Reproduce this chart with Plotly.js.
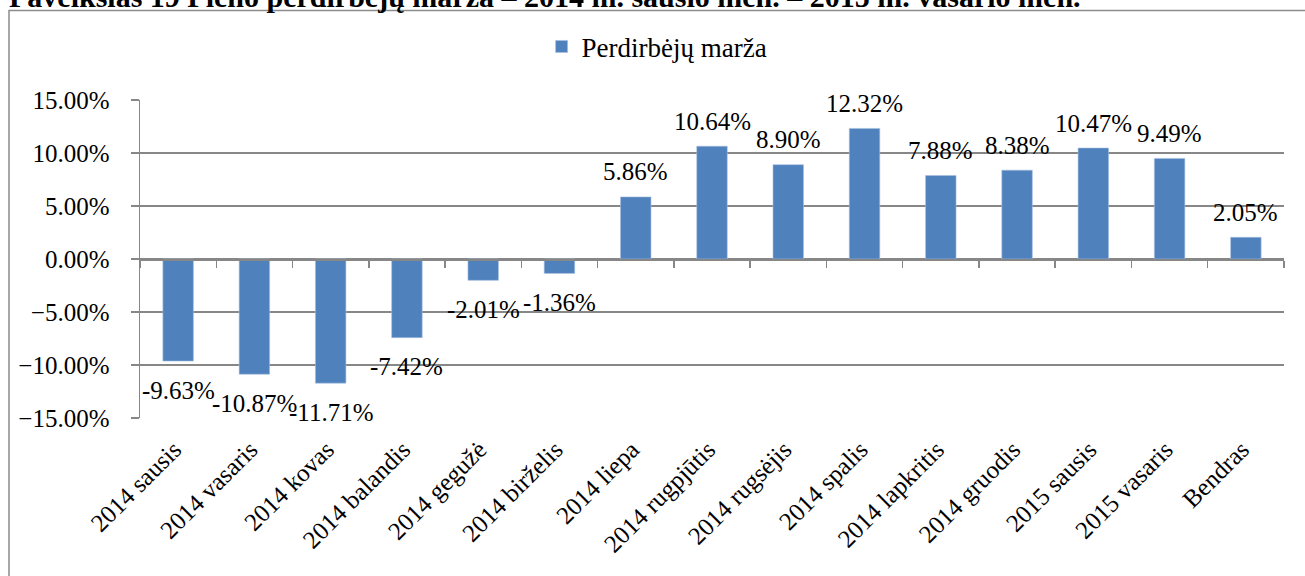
<!DOCTYPE html>
<html>
<head>
<meta charset="utf-8">
<script src="https://cdn.plot.ly/plotly-3.0.1.min.js"></script>
<style>
html,body{margin:0;padding:0;background:#fff;}
#chart{width:1305px;height:576px;}
</style>
</head>
<body>
<div id="chart"></div>
<script>
const categories = ["2014 sausis","2014 vasaris","2014 kovas","2014 balandis","2014 gegužė","2014 birželis","2014 liepa","2014 rugpjūtis","2014 rugsėjis","2014 spalis","2014 lapkritis","2014 gruodis","2015 sausis","2015 vasaris","Bendras"];
const margin = [-9.63,-10.87,-11.71,-7.42,-2.01,-1.36,5.86,10.64,8.90,12.32,7.88,8.38,10.47,9.49,2.05];
const seriesName = "Perdirbėjų marža";
const titleText = "Paveikslas 19 Pieno perdirbėjų marža – 2014 m. sausio mėn. – 2015 m. vasario mėn.";

const FONT = "Liberation Serif";
const GRID = "#878787";

const traces = [
  {
    type: "bar",
    name: seriesName,
    x: categories,
    y: margin,
    marker: {color: "#4f81bd", line: {color: "#a9c0e0", width: 0.6}},
    hoverinfo: "skip"
  },
  {
    type: "scatter",
    mode: "markers",
    x: categories,
    y: margin,
    xaxis: "x2",
    marker: {opacity: 0},
    showlegend: false,
    hoverinfo: "skip"
  }
];

const labelAnnotations = categories.map((c, i) => ({
  x: c,
  y: margin[i],
  xref: "x",
  yref: "y",
  text: margin[i].toFixed(2) + "%",
  showarrow: false,
  xanchor: "center",
  yanchor: "middle",
  yshift: margin[i] >= 0 ? 25 : -29,
  font: {family: FONT, size: 25, color: "#000"}
}));

const titleAnnotation = {
  text: "<b>" + titleText + "</b>",
  xref: "paper", yref: "paper",
  x: (7 - 140) / 1144, xanchor: "left",
  y: (418 + 3.5) / 318, yanchor: "middle",
  showarrow: false,
  font: {family: FONT, size: 30, color: "#000"}
};

const layout = {
  width: 1305,
  height: 576,
  paper_bgcolor: "#fff",
  plot_bgcolor: "#fff",
  font: {family: FONT, size: 25, color: "#000"},
  margin: {l: 140, r: 21, t: 100, b: 158},
  bargap: 0.6,
  showlegend: true,
  legend: {
    orientation: "h",
    xref: "paper", yref: "paper",
    x: 0.452, xanchor: "center",
    y: 1.167, yanchor: "middle",
    font: {family: FONT, size: 27},
    itemwidth: 30
  },
  xaxis: {
    type: "category",
    range: [-0.5, 14.5],
    tickangle: -45,
    showgrid: false,
    showline: false,
    zeroline: false,
    ticks: "",
    ticklabelstandoff: 11,
    ticklabelshift: -4,
    tickfont: {family: FONT, size: 25}
  },
  xaxis2: {
    type: "category",
    overlaying: "x",
    matches: "x",
    range: [-0.5, 14.5],
    anchor: "free",
    position: 0.5,
    side: "bottom",
    showline: true,
    linecolor: GRID,
    linewidth: 1.5,
    ticks: "outside",
    tickson: "boundaries",
    ticklen: 7,
    tickcolor: GRID,
    tickwidth: 1.5,
    showticklabels: false,
    showgrid: false,
    zeroline: false
  },
  yaxis: {
    range: [-15, 15],
    dtick: 5,
    tick0: 0,
    tickformat: ".2f",
    ticksuffix: "%",
    showgrid: true,
    gridcolor: GRID,
    gridwidth: 1.3,
    showline: true,
    linecolor: GRID,
    linewidth: 1.5,
    ticks: "outside",
    ticklen: 8,
    tickcolor: GRID,
    tickwidth: 1.3,
    zeroline: false,
    ticklabelstandoff: 16,
    tickfont: {family: FONT, size: 25}
  },
  annotations: [titleAnnotation].concat(labelAnnotations),
  shapes: [
    {
      type: "rect", xref: "paper", yref: "paper",
      x0: (9 - 140) / 1144, x1: (1315 - 140) / 1144,
      y0: (418 - 590) / 318, y1: (418 - 10.5) / 318,
      line: {color: "#8c8c8c", width: 1.5},
      fillcolor: "rgba(0,0,0,0)",
      layer: "below"
    }
  ]
};

Plotly.newPlot("chart", traces, layout, {staticPlot: true});
</script>
</body>
</html>
